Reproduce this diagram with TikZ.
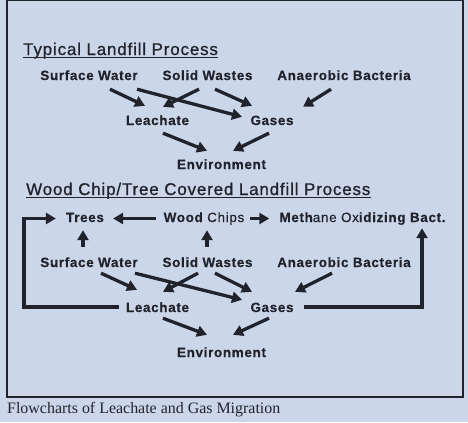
\documentclass[tikz,border=0pt]{standalone}
\usepackage{fontspec}
\setmainfont{Liberation Serif}
\newfontfamily\termfont[LetterSpace=5,FakeBold=0.4]{Liberation Sans}
\newfontfamily\headfont[LetterSpace=5,FakeBold=0.9]{Liberation Sans}
\usepackage{tikz}
\usetikzlibrary{arrows.meta}
\usetikzlibrary{calc}
\definecolor{paper}{RGB}{204,214,233}
\definecolor{ink}{RGB}{32,35,43}
\tikzset{
	%	term/.style={draw,circle},
	term/.style={inner sep=0pt,anchor=base,text height=10bp,text depth=3bp,text=ink,
		font=\termfont\bfseries\fontsize{13.5}{15}\selectfont},
	heading/.style={inner sep=0pt,anchor=base west,text=ink,
		font=\headfont\fontsize{17}{19}\selectfont},
	edge/.style={-{Triangle[length=10bp,width=11bp]},line width=3.3bp,draw=ink,fill=ink},
	uline/.style={line width=1.4bp,draw=ink}
}

\begin{document}
\begin{tikzpicture}[x=1bp,y=-1bp]
	\fill[paper] (0,0) rectangle (468,422);
	\useasboundingbox (0,0) rectangle (468,422);
	\draw[ink,line width=1.4bp] (7,0.7) rectangle (463,397);
	
	% typical landfill
	\node[heading] (h1) at (23,55) {Typical Landfill Process};
	\draw[uline] ([yshift=-2.5bp]h1.base west) -- ([yshift=-2.5bp]h1.base east);
	
	\node[term] (sw1) at (89,80) {Surface Water};
	\node[term] (sd1) at (207.5,80) {Solid Wastes};
	\node[term] (an1) at (344,80) {Anaerobic Bacteria};
	\node[term] (le1) at (157.5,125) {Leachate};
	\node[term] (ga1) at (272,125) {Gases};
	\node[term] (en1) at (221.5,169) {Environment};
	
	\draw[edge] ([shift={(21,6)}]sw1.south) -- ([shift={(-12.5,-9)}]le1.north);
	\draw[edge] ([shift={(48,6)}]sw1.south) -- ([shift={(-30,2)}]ga1.north);
	\draw[edge] ([shift={(-8.5,6)}]sd1.south) -- ([shift={(5.5,-8)}]le1.north);
	\draw[edge] ([shift={(7.5,6)}]sd1.south) -- ([shift={(-20,-9)}]ga1.north);
	\draw[edge] ([shift={(-13,6)}]an1.south) -- ([shift={(31,-8)}]ga1.north);
	\draw[edge] ([shift={(5.5,5)}]le1.south) -- ([shift={(-14.5,-8)}]en1.north);
	\draw[edge] ([shift={(-3,5)}]ga1.south) -- ([shift={(11.5,-8)}]en1.north);
	
	% wood chip / tree covered
	\node[heading] (h2) at (26,195) {Wood Chip/Tree Covered Landfill Process};
	\draw[uline] ([yshift=-2.5bp]h2.base west) -- ([yshift=-2.5bp]h2.base east);
	
	\node[term] (tr) at (85,222) {Trees};
	\node[term] (wc) at (204,222) {Wood {\mdseries Chips}};
	\node[term] (mo) at (362.5,222) {Meth{\mdseries ane Ox}idizing Bact.};
	\node[term] (sw2) at (89,267) {Surface Water};
	\node[term] (sd2) at (207.5,267) {Solid Wastes};
	\node[term] (an2) at (344,267) {Anaerobic Bacteria};
	\node[term] (le2) at (157.5,312) {Leachate};
	\node[term] (ga2) at (272,312) {Gases};
	\node[term] (en2) at (221.5,357) {Environment};
	
	\draw[edge,shorten <=8bp,shorten >=9bp] (wc.west) -- (tr.east);
	\draw[edge,shorten <=5bp,shorten >=10bp] (wc.east) -- (mo.west);
	\draw[edge] ([shift={(-6,-10)}]sw2.north) -- ([shift={(-2,5)}]tr.south);
	\draw[edge] ([shift={(-0.5,-10)}]sd2.north) -- ([shift={(3,5)}]wc.south);
	
	\draw[edge,fill=none] ([shift={(-7,-1.5)}]le2.west) -| ([shift={(-42,0)}]tr.west) -- ([xshift=-10bp]tr.west);
	\draw[edge,fill=none] ([shift={(10,-1.5)}]ga2.east) -| ([shift={(59.5,3)}]mo.south);
	
	\draw[edge] ([shift={(12,3)}]sw2.south) -- ([shift={(-20.5,-12)}]le2.north);
	\draw[edge] ([shift={(46,3)}]sw2.south) -- ([shift={(-30,-2)}]ga2.north);
	\draw[edge] ([shift={(-9.5,3)}]sd2.south) -- ([shift={(5.5,-10)}]le2.north);
	\draw[edge] ([shift={(7.5,3)}]sd2.south) -- ([shift={(-20,-10)}]ga2.north);
	\draw[edge] ([shift={(-12,3)}]an2.south) -- ([shift={(23,-10)}]ga2.north);
	\draw[edge] ([shift={(5.5,3)}]le2.south) -- ([shift={(-14.5,-12)}]en2.north);
	\draw[edge] ([shift={(-3,3)}]ga2.south) -- ([shift={(11.5,-12)}]en2.north);
	
	\node[inner sep=0pt,anchor=base west,text=ink,font=\fontsize{16}{18}\selectfont] (cap) at (7,413)
		{Flowcharts of Leachate and Gas Migration};
\end{tikzpicture}
\end{document}
